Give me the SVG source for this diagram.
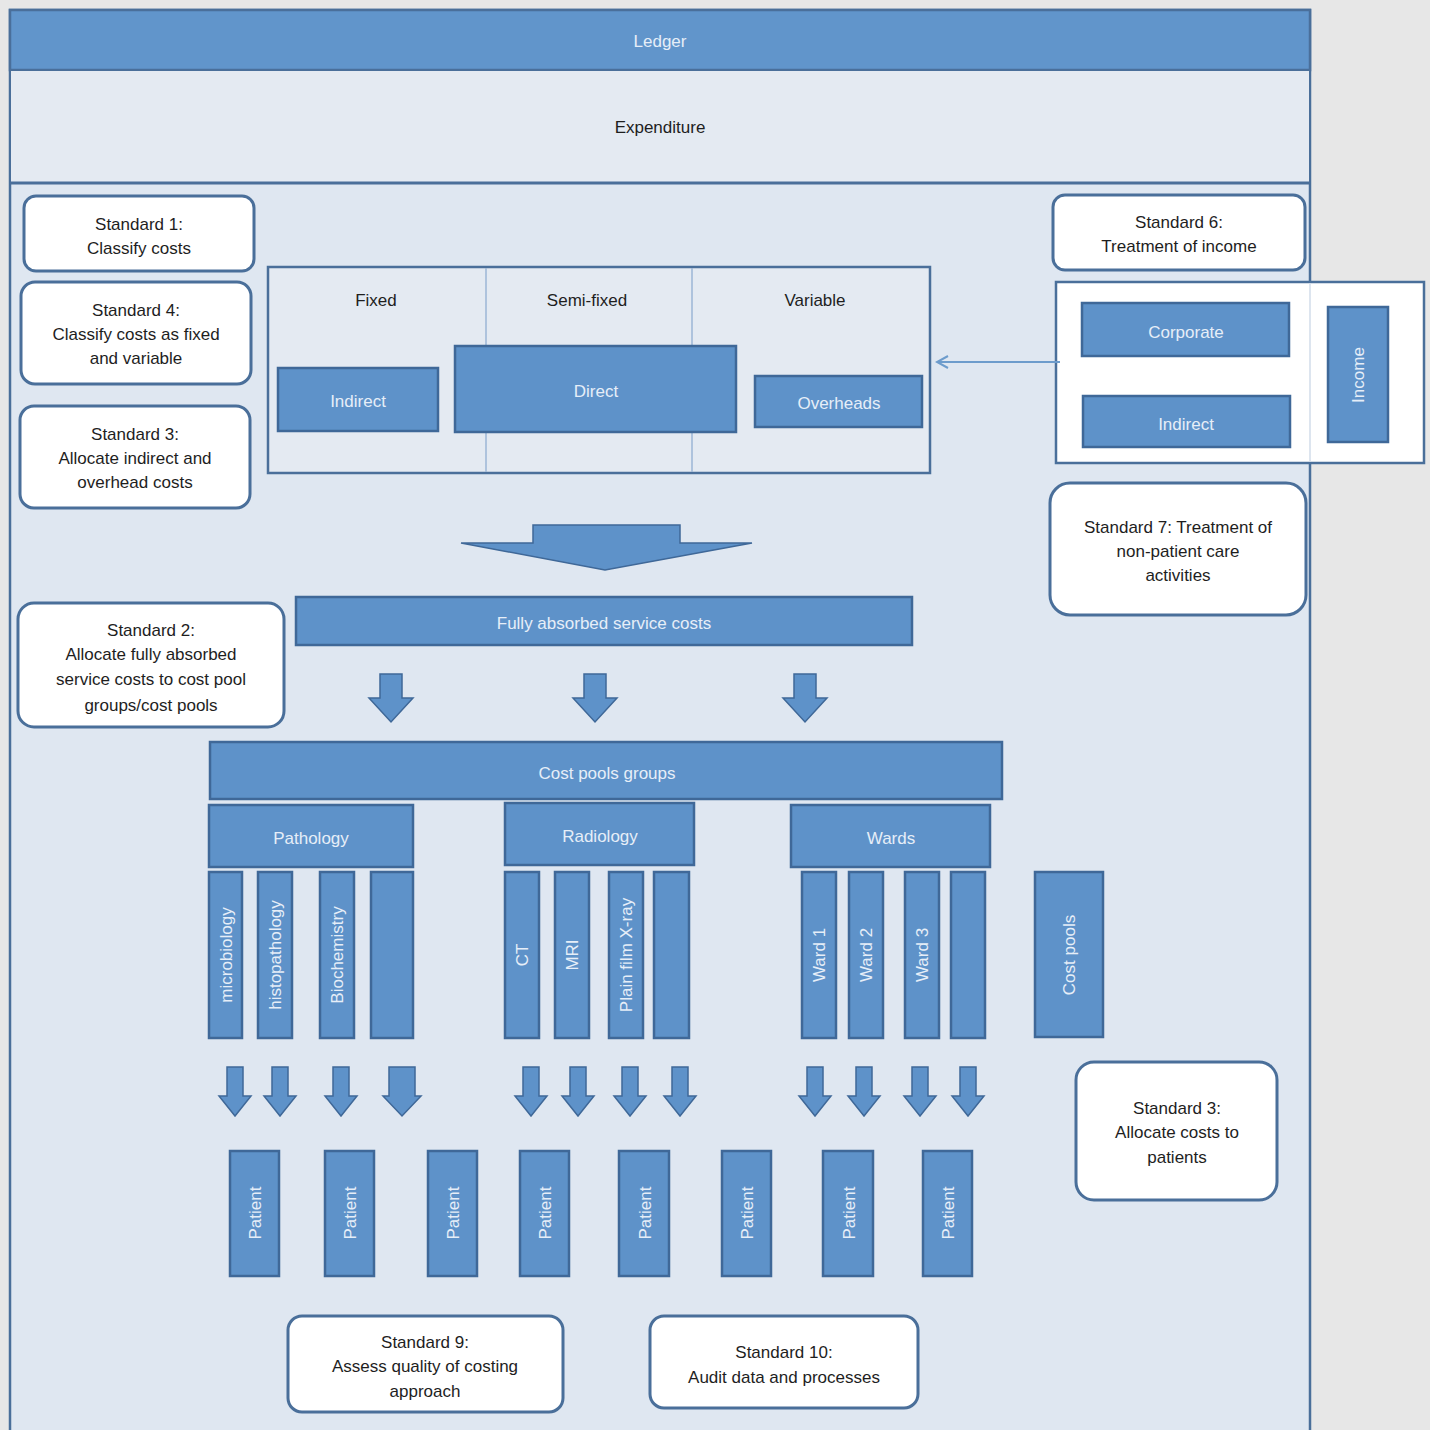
<svg xmlns="http://www.w3.org/2000/svg" width="1430" height="1430" viewBox="0 0 1430 1430">
<style>
.std{fill:#ffffff;stroke:#4a6f9a;stroke-width:3}
.blue{fill:#5e92c9;stroke:#3f6898;stroke-width:2.5}
.arr{fill:#5e92c9;stroke:#3f6898;stroke-width:1.5}
.t{font-family:"Liberation Sans",Arial,sans-serif;font-size:17px;fill:#1e1e1e;text-anchor:middle}
.w{font-family:"Liberation Sans",Arial,sans-serif;font-size:17px;fill:#e6eef8;text-anchor:middle}
</style>
<defs>
<path id="sa" d="M-8,0 h16 v29 h8 l-16,20 l-16,-20 h8 z"/>
<path id="ma" d="M-11,0 h22 v24 h11 l-22,24 l-22,-24 h11 z"/>
<marker id="oh" markerWidth="14" markerHeight="14" refX="12" refY="7" orient="auto" markerUnits="userSpaceOnUse">
<path d="M1,1 L12,7 L1,13" fill="none" stroke="#6d9ccc" stroke-width="2"/>
</marker>
</defs>
<rect x="0" y="0" width="1430" height="1430" fill="#e7e7e7"/>
<g id="panel">
<rect x="10" y="10" width="1300" height="1440" fill="#dfe7f1" stroke="#4a6f9a" stroke-width="2.5"/>
</g>
<g id="ledger">
<rect x="10" y="10" width="1300" height="60" fill="#6195cb" stroke="#4a6f9a" stroke-width="2.5"/>
<text class="w" x="660" y="47">Ledger</text>
</g>
<g id="expenditure">
<rect x="10" y="70" width="1300" height="113" fill="#e4eaf2" stroke="#4a6f9a" stroke-width="2"/>
<line x1="10" y1="183" x2="1310" y2="183" stroke="#4a6f9a" stroke-width="3"/>
<text class="t" x="660" y="133">Expenditure</text>
</g>

<g id="std1"><rect class="std" x="24" y="196" width="230" height="75" rx="12"/>
<text class="t" x="139" y="230">Standard 1:</text><text class="t" x="139" y="254">Classify costs</text></g>
<g id="std4"><rect class="std" x="21" y="282" width="230" height="102" rx="14"/>
<text class="t" x="136" y="316">Standard 4:</text><text class="t" x="136" y="340">Classify costs as fixed</text><text class="t" x="136" y="364">and variable</text></g>
<g id="std3a"><rect class="std" x="20" y="406" width="230" height="102" rx="14"/>
<text class="t" x="135" y="440">Standard 3:</text><text class="t" x="135" y="464">Allocate indirect and</text><text class="t" x="135" y="488">overhead costs</text></g>
<g id="std2"><rect class="std" x="18" y="603" width="266" height="124" rx="16"/>
<text class="t" x="151" y="636">Standard 2:</text><text class="t" x="151" y="660">Allocate fully absorbed</text><text class="t" x="151" y="685">service costs to cost pool</text><text class="t" x="151" y="711">groups/cost pools</text></g>
<g id="std6"><rect class="std" x="1053" y="195" width="252" height="75" rx="12"/>
<text class="t" x="1179" y="228">Standard 6:</text><text class="t" x="1179" y="252">Treatment of income</text></g>
<g id="std7"><rect class="std" x="1050" y="483" width="256" height="132" rx="20"/>
<text class="t" x="1178" y="533">Standard 7: Treatment of</text><text class="t" x="1178" y="557">non-patient care</text><text class="t" x="1178" y="581">activities</text></g>
<g id="std3b"><rect class="std" x="1076" y="1062" width="201" height="138" rx="18"/>
<text class="t" x="1177" y="1114">Standard 3:</text><text class="t" x="1177" y="1138">Allocate costs to</text><text class="t" x="1177" y="1163">patients</text></g>
<g id="std9"><rect class="std" x="288" y="1316" width="275" height="96" rx="14"/>
<text class="t" x="425" y="1348">Standard 9:</text><text class="t" x="425" y="1372">Assess quality of costing</text><text class="t" x="425" y="1397">approach</text></g>
<g id="std10"><rect class="std" x="650" y="1316" width="268" height="92" rx="14"/>
<text class="t" x="784" y="1358">Standard 10:</text><text class="t" x="784" y="1383">Audit data and processes</text></g>

<g id="classification">
<rect x="268" y="267" width="662" height="206" fill="#e4eaf2" stroke="#4a6f9a" stroke-width="2.5"/>
<line x1="486" y1="268" x2="486" y2="472" stroke="#9db6d6" stroke-width="1.5"/>
<line x1="692" y1="268" x2="692" y2="472" stroke="#9db6d6" stroke-width="1.5"/>
<text class="t" x="376" y="306">Fixed</text>
<text class="t" x="587" y="306">Semi-fixed</text>
<text class="t" x="815" y="306">Variable</text>
</g>
<g id="indirect1"><rect class="blue" x="278" y="368" width="160" height="63"/><text class="w" x="358" y="407">Indirect</text></g>
<g id="direct"><rect class="blue" x="455" y="346" width="281" height="86"/><text class="w" x="596" y="397">Direct</text></g>
<g id="overheads"><rect class="blue" x="755" y="376" width="167" height="51"/><text class="w" x="839" y="409">Overheads</text></g>

<g id="incomebox">
<rect x="1056" y="282" width="368" height="181" fill="#ffffff" stroke="#4a6f9a" stroke-width="2.5"/>
<line x1="1310" y1="283" x2="1310" y2="462" stroke="#d2dcea" stroke-width="1.5"/>
</g>
<g id="corporate"><rect class="blue" x="1082" y="303" width="207" height="53"/><text class="w" x="1186" y="338">Corporate</text></g>
<g id="indirect2"><rect class="blue" x="1083" y="396" width="207" height="51"/><text class="w" x="1186" y="430">Indirect</text></g>
<g id="income"><rect class="blue" x="1328" y="307" width="60" height="135"/><text class="w" transform="translate(1364,375) rotate(-90)">Income</text></g>

<g id="fullyabsorbed"><rect class="blue" x="296" y="597" width="616" height="48"/><text class="w" x="604" y="629">Fully absorbed service costs</text></g>
<g id="costpoolsgroups"><rect class="blue" x="210" y="742" width="792" height="57"/><text class="w" x="607" y="779">Cost pools groups</text></g>
<g id="pathology"><rect class="blue" x="209" y="805" width="204" height="62"/><text class="w" x="311" y="844">Pathology</text></g>
<g id="radiology"><rect class="blue" x="505" y="803" width="189" height="62"/><text class="w" x="600" y="842">Radiology</text></g>
<g id="wards"><rect class="blue" x="791" y="805" width="199" height="62"/><text class="w" x="891" y="844">Wards</text></g>

<g id="microbiology"><rect class="blue" x="209" y="872" width="33" height="166"/><text class="w" transform="translate(232,955) rotate(-90)">microbiology</text></g>
<g id="histopathology"><rect class="blue" x="258" y="872" width="34" height="166"/><text class="w" transform="translate(281,955) rotate(-90)">histopathology</text></g>
<g id="biochemistry"><rect class="blue" x="320" y="872" width="34" height="166"/><text class="w" transform="translate(343,955) rotate(-90)">Biochemistry</text></g>
<g id="path4"><rect class="blue" x="371" y="872" width="42" height="166"/></g>
<g id="ct"><rect class="blue" x="505" y="872" width="34" height="166"/><text class="w" transform="translate(528,955) rotate(-90)">CT</text></g>
<g id="mri"><rect class="blue" x="555" y="872" width="34" height="166"/><text class="w" transform="translate(578,955) rotate(-90)">MRI</text></g>
<g id="xray"><rect class="blue" x="609" y="872" width="34" height="166"/><text class="w" transform="translate(632,955) rotate(-90)">Plain film X-ray</text></g>
<g id="rad4"><rect class="blue" x="654" y="872" width="35" height="166"/></g>
<g id="ward1"><rect class="blue" x="802" y="872" width="34" height="166"/><text class="w" transform="translate(825,955) rotate(-90)">Ward 1</text></g>
<g id="ward2"><rect class="blue" x="849" y="872" width="34" height="166"/><text class="w" transform="translate(872,955) rotate(-90)">Ward 2</text></g>
<g id="ward3"><rect class="blue" x="905" y="872" width="34" height="166"/><text class="w" transform="translate(928,955) rotate(-90)">Ward  3</text></g>
<g id="ward4"><rect class="blue" x="951" y="872" width="34" height="166"/></g>
<g id="costpools"><rect class="blue" x="1035" y="872" width="68" height="165"/><text class="w" transform="translate(1075,955) rotate(-90)">Cost pools</text></g>

<g id="patients">
<g id="p1"><rect class="blue" x="230" y="1151" width="49" height="125"/><text class="w" transform="translate(261,1213) rotate(-90)">Patient</text></g>
<g id="p2"><rect class="blue" x="325" y="1151" width="49" height="125"/><text class="w" transform="translate(356,1213) rotate(-90)">Patient</text></g>
<g id="p3"><rect class="blue" x="428" y="1151" width="49" height="125"/><text class="w" transform="translate(459,1213) rotate(-90)">Patient</text></g>
<g id="p4"><rect class="blue" x="520" y="1151" width="49" height="125"/><text class="w" transform="translate(551,1213) rotate(-90)">Patient</text></g>
<g id="p5"><rect class="blue" x="619" y="1151" width="50" height="125"/><text class="w" transform="translate(651,1213) rotate(-90)">Patient</text></g>
<g id="p6"><rect class="blue" x="722" y="1151" width="49" height="125"/><text class="w" transform="translate(753,1213) rotate(-90)">Patient</text></g>
<g id="p7"><rect class="blue" x="823" y="1151" width="50" height="125"/><text class="w" transform="translate(855,1213) rotate(-90)">Patient</text></g>
<g id="p8"><rect class="blue" x="923" y="1151" width="49" height="125"/><text class="w" transform="translate(954,1213) rotate(-90)">Patient</text></g>
</g>

<g id="connectors">
<line x1="1060" y1="362" x2="937" y2="362" stroke="#6d9ccc" stroke-width="2" marker-end="url(#oh)"/>
<path class="arr" d="M533,525 H680 V543 H752 L605,570 L461,543 H533 Z"/>
<use href="#ma" class="arr" x="391" y="674"/>
<use href="#ma" class="arr" x="595" y="674"/>
<use href="#ma" class="arr" x="805" y="674"/>
<use href="#sa" class="arr" x="235" y="1067"/>
<use href="#sa" class="arr" x="280" y="1067"/>
<use href="#sa" class="arr" x="341" y="1067"/>
<path class="arr" d="M389,1067 h26 v29 h6 l-19,20 l-19,-20 h6 z"/>
<use href="#sa" class="arr" x="531" y="1067"/>
<use href="#sa" class="arr" x="578" y="1067"/>
<use href="#sa" class="arr" x="630" y="1067"/>
<use href="#sa" class="arr" x="680" y="1067"/>
<use href="#sa" class="arr" x="815" y="1067"/>
<use href="#sa" class="arr" x="864" y="1067"/>
<use href="#sa" class="arr" x="920" y="1067"/>
<use href="#sa" class="arr" x="968" y="1067"/>
</g>
</svg>
